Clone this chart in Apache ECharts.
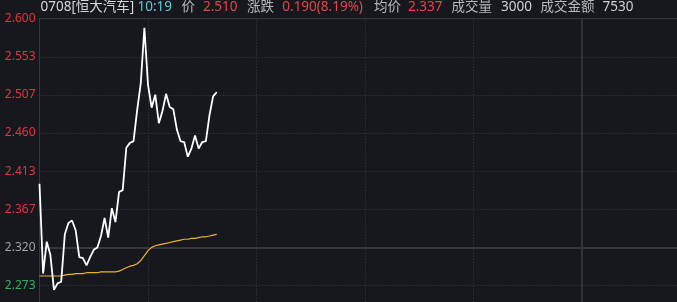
<!DOCTYPE html>
<html>
<head>
<meta charset="utf-8">
<script src="https://cdn.jsdelivr.net/npm/echarts@6/dist/echarts.min.js"></script>
<style>
html,body{margin:0;padding:0;background:#16181d;}
#c{width:677px;height:302px;}
</style>
</head>
<body>
<div id="c"></div>
<script>
// ---- data ----
const prevClose = 2.320;
const yMin = 2.040;
const yMax = 2.600;
// minute index from 9:30 (0) ; full session 330 minutes, 12:00/13:00 at 150
const sessionMinutes = 330;
const middayMinute = 150;
const priceValues = [
  2.398, 2.288, 2.327, 2.311, 2.268, 2.276, 2.278, 2.336, 2.350, 2.353,
  2.341, 2.308, 2.307, 2.298, 2.308, 2.317, 2.320, 2.334, 2.356, 2.332,
  2.368, 2.351, 2.388, 2.390, 2.442, 2.448, 2.450, 2.488, 2.521, 2.589,
  2.519, 2.491, 2.507, 2.472, 2.487, 2.508, 2.492, 2.489, 2.464, 2.450,
  2.449, 2.431, 2.441, 2.457, 2.441, 2.449, 2.450, 2.482, 2.505, 2.510
];
const avgValues = [
  2.285, 2.285, 2.285, 2.285, 2.285, 2.285, 2.285, 2.286, 2.287, 2.287,
  2.288, 2.288, 2.288, 2.289, 2.289, 2.289, 2.289, 2.290, 2.290, 2.290,
  2.290, 2.290, 2.291, 2.293, 2.295, 2.297, 2.298, 2.300, 2.304, 2.310,
  2.316, 2.320, 2.322, 2.323, 2.324, 2.325, 2.326, 2.327, 2.328, 2.329,
  2.330, 2.330, 2.331, 2.331, 2.332, 2.333, 2.333, 2.334, 2.335, 2.336
];
const headerItems = [
  {text: '0708[恒大汽车]', kind: 'name'},
  {text: '10:19', kind: 'time'},
  {text: '价', kind: 'label'},
  {text: '2.510', kind: 'up'},
  {text: '涨跌', kind: 'label'},
  {text: '0.190(8.19%)', kind: 'up'},
  {text: '均价', kind: 'label'},
  {text: '2.337', kind: 'up'},
  {text: '成交量', kind: 'label'},
  {text: '3000', kind: 'plain'},
  {text: '成交金额', kind: 'label'},
  {text: '7530', kind: 'plain'}
];
// ---- styles ----
const headerX = [40.5, 137.5, 181.5, 203, 247, 282.3, 374, 408, 451.5, 501, 540.5, 602.5];
const headerColors = {name:'#d6d7d9', time:'#5ec9d2', label:'#b6b8bb', up:'#e8424c', plain:'#d0d1d3'};
const FONT = '"Noto Sans", "Noto Sans CJK SC", sans-serif';
const PX_PER_MIN = 3.617;
const PX_PER_UNIT = 816.8;

const chart = echarts.init(document.getElementById('c'), null, {renderer: 'canvas'});
const priceData = priceValues.map((v, i) => [i, v]);
const avgData = avgValues.map((v, i) => [i, v]);

const graphics = headerItems.map((h, i) => ({
  type: 'text',
  left: headerX[i],
  top: 0,
  style: {
    text: h.text,
    fill: headerColors[h.kind],
    font: '13.5px ' + FONT
  }
}));

chart.setOption({
  backgroundColor: '#16181d',
  animation: false,
  grid: {
    left: 39.5,
    top: 18.7,
    width: sessionMinutes * PX_PER_MIN,
    height: (yMax - yMin) * PX_PER_UNIT,
    outerBoundsMode: 'none',
    show: true,
    borderColor: '#34373c',
    borderWidth: 1,
    backgroundColor: 'transparent',
    containLabel: false
  },
  xAxis: {
    type: 'value',
    min: 0,
    max: sessionMinutes,
    interval: 30,
    axisLine: {show: false},
    axisTick: {show: false},
    axisLabel: {show: false},
    splitLine: {show: true, lineStyle: {color: '#3a3d43', type: [1, 2], width: 1}}
  },
  yAxis: {
    type: 'value',
    min: yMin,
    max: yMax,
    interval: (yMax - yMin) / 12,
    axisLine: {show: false},
    axisTick: {show: false},
    axisLabel: {
      show: true,
      margin: 4,
      fontSize: 12,
      fontFamily: FONT,
      formatter: v => v.toFixed(3),
      color: v => {
        const d = v - prevClose;
        if (d > 0.0005) return '#e0363f';
        if (d < -0.0005) return '#2db35e';
        return '#9ea1a6';
      }
    },
    splitLine: {show: true, lineStyle: {color: '#3a3d43', type: [1, 2], width: 1}}
  },
  graphic: graphics,
  series: [
    {
      type: 'line',
      data: priceData,
      showSymbol: false,
      lineStyle: {color: '#ffffff', width: 1.8},
      z: 5,
      markLine: {
        silent: true,
        symbol: 'none',
        label: {show: false},
        data: [
          {yAxis: prevClose, lineStyle: {color: '#33363b', type: 'solid', width: 2}},
          {xAxis: middayMinute, lineStyle: {color: '#2f3237', type: 'solid', width: 2}}
        ],
        z: 1
      }
    },
    {
      type: 'line',
      data: avgData,
      showSymbol: false,
      lineStyle: {color: '#eeb230', width: 1.2},
      z: 4
    }
  ]
});
</script>
</body>
</html>
